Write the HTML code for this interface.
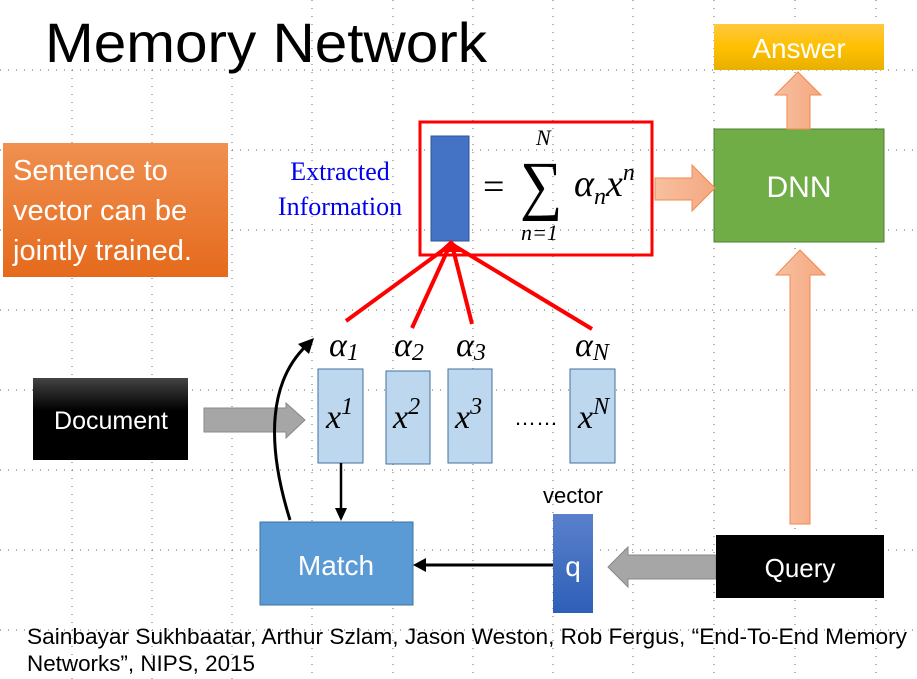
<!DOCTYPE html>
<html><head><meta charset="utf-8"><style>
body{margin:0;background:#fff;}
svg{display:block;}
text{font-family:"Liberation Sans",sans-serif;}
text.s,tspan.s{font-family:"Liberation Serif",serif;font-style:italic;}
text.r{font-family:"Liberation Serif",serif;}
</style></head><body>
<svg width="917" height="679" viewBox="0 0 917 679" xmlns="http://www.w3.org/2000/svg">
<defs>
<linearGradient id="og" x1="0" y1="0" x2="0" y2="1"><stop offset="0" stop-color="#f09050"/><stop offset="1" stop-color="#e56a1c"/></linearGradient>
<linearGradient id="bg" x1="0" y1="0" x2="0" y2="1"><stop offset="0" stop-color="#444"/><stop offset="0.4" stop-color="#000"/><stop offset="1" stop-color="#000"/></linearGradient>
<linearGradient id="yg" x1="0" y1="0" x2="0" y2="1"><stop offset="0" stop-color="#ffc840"/><stop offset="0.5" stop-color="#ffc000"/><stop offset="1" stop-color="#e8b000"/></linearGradient>
<linearGradient id="qg" x1="0" y1="0" x2="0" y2="1"><stop offset="0" stop-color="#5a80cc"/><stop offset="1" stop-color="#2e5fb8"/></linearGradient>
<linearGradient id="sg" x1="0" y1="0" x2="1" y2="0"><stop offset="0" stop-color="#f8c0a0"/><stop offset="1" stop-color="#f4a880"/></linearGradient>
</defs>
<g stroke="#000" stroke-width="1" stroke-dasharray="1 7" fill="none" opacity="0.6">
<line x1="0" y1="70" x2="917" y2="70"/><line x1="0" y1="150" x2="917" y2="150"/><line x1="0" y1="230" x2="917" y2="230"/><line x1="0" y1="310" x2="917" y2="310"/><line x1="0" y1="390" x2="917" y2="390"/><line x1="0" y1="470" x2="917" y2="470"/><line x1="0" y1="550" x2="917" y2="550"/><line x1="0" y1="630" x2="917" y2="630"/>
<line x1="72" y1="70" x2="72" y2="679"/><line x1="152" y1="70" x2="152" y2="679"/><line x1="232" y1="70" x2="232" y2="679"/><line x1="312" y1="0" x2="312" y2="679"/><line x1="393" y1="0" x2="393" y2="679"/><line x1="473" y1="0" x2="473" y2="679"/><line x1="553" y1="0" x2="553" y2="679"/><line x1="633" y1="0" x2="633" y2="679"/><line x1="714" y1="0" x2="714" y2="679"/><line x1="795" y1="0" x2="795" y2="679"/><line x1="876" y1="0" x2="876" y2="679"/>
</g>
<text x="45" y="62" font-size="56" textLength="442" lengthAdjust="spacingAndGlyphs" fill="#000">Memory Network</text>
<rect x="3" y="143" width="225" height="134" fill="url(#og)"/>
<text font-size="29" fill="#fff"><tspan x="13" y="180">Sentence to</tspan><tspan x="13" y="220">vector can be</tspan><tspan x="13" y="260">jointly trained.</tspan></text>
<text class="r" font-size="26" fill="#0000ee" text-anchor="middle"><tspan x="340" y="180">Extracted</tspan><tspan x="340" y="215">Information</tspan></text>
<rect x="420" y="122" width="232" height="133" fill="none" stroke="#f00" stroke-width="3"/>
<rect x="431" y="136" width="38" height="105" fill="#4472c4" stroke="#2f5597"/>
<text class="r" x="483" y="199" font-size="38">=</text>
<text class="r" x="520" y="207" font-size="66" transform="translate(520 0) scale(0.9 1) translate(-520 0)">∑</text>
<text class="s" x="536" y="145" font-size="22">N</text>
<text class="s" x="521" y="240" font-size="22">n=1</text>
<text class="s" x="574" y="196" font-size="38">α<tspan font-size="24" dy="8">n</tspan><tspan dy="-8">x</tspan><tspan font-size="24" dy="-16">n</tspan></text>
<g stroke="#f00" stroke-width="4" fill="none">
<line x1="346" y1="321" x2="450" y2="245"/><line x1="412" y1="328" x2="450" y2="245"/><line x1="472" y1="324" x2="452" y2="245"/><line x1="592" y1="329" x2="453" y2="245"/>
</g>
<polygon points="451,240 438,252 464,252" fill="#f00"/>
<text class="s" x="329" y="356" font-size="34">α<tspan font-size="24" dy="4">1</tspan></text>
<text class="s" x="394" y="356" font-size="34">α<tspan font-size="24" dy="4">2</tspan></text>
<text class="s" x="456" y="356" font-size="34">α<tspan font-size="24" dy="4">3</tspan></text>
<text class="s" x="575" y="356" font-size="34">α<tspan font-size="24" dy="4">N</tspan></text>
<g fill="#bdd7ee" stroke="#41719c">
<rect x="318" y="369" width="45" height="94"/><rect x="386" y="371" width="44" height="93"/><rect x="448" y="369" width="44" height="94"/><rect x="570" y="369" width="45" height="94"/>
</g>
<text class="s" x="326" y="428" font-size="34">x<tspan font-size="24" dy="-14">1</tspan></text>
<text class="s" x="393" y="428" font-size="34">x<tspan font-size="24" dy="-14">2</tspan></text>
<text class="s" x="455" y="428" font-size="34">x<tspan font-size="24" dy="-14">3</tspan></text>
<text class="s" x="578" y="428" font-size="34">x<tspan font-size="24" dy="-14">N</tspan></text>
<text x="514" y="425" font-size="22">……</text>
<rect x="33" y="378" width="155" height="82" fill="url(#bg)"/>
<text x="111" y="429" font-size="25" fill="#fff" text-anchor="middle">Document</text>
<polygon points="204,408 286,408 286,403 305,420 286,438 286,432 204,432" fill="#a6a6a6" stroke="#888"/>
<path d="M290,520 C265,440 270,380 307,345" fill="none" stroke="#000" stroke-width="3"/>
<polygon points="314,338 298,344 309,354" fill="#000"/>
<line x1="341" y1="463" x2="341" y2="510" stroke="#000" stroke-width="2.5"/>
<polygon points="335,508 347,508 341,521" fill="#000"/>
<rect x="260" y="522" width="153" height="83" fill="#5b9bd5" stroke="#41719c"/>
<text x="336" y="575" font-size="28" fill="#fff" text-anchor="middle">Match</text>
<line x1="553" y1="565" x2="424" y2="565" stroke="#000" stroke-width="3"/>
<polygon points="413,565 426,558 426,572" fill="#000"/>
<rect x="553" y="514" width="40" height="99" fill="url(#qg)"/>
<text x="573" y="576" font-size="28" fill="#fff" text-anchor="middle">q</text>
<text x="573" y="503" font-size="22" text-anchor="middle">vector</text>
<polygon points="716,555 628,555 628,547 608,567 628,587 628,579 716,579" fill="#a6a6a6" stroke="#888"/>
<rect x="716" y="535" width="168" height="63" fill="#000"/>
<text x="800" y="577" font-size="26" fill="#fff" text-anchor="middle">Query</text>
<polygon points="790,524 790,275 776,275 800,250 825,275 810,275 810,524" fill="url(#sg)" stroke="#f08a50"/>
<rect x="714" y="129" width="170" height="113" fill="#70ad47" stroke="#507e32"/>
<text x="799" y="197" font-size="30" fill="#fff" text-anchor="middle">DNN</text>
<polygon points="655,178 692,178 692,165 715,188 692,211 692,200 655,200" fill="url(#sg)" stroke="#f08a50"/>
<polygon points="787,129 787,95 775,95 798,72 821,95 810,95 810,129" fill="url(#sg)" stroke="#f08a50"/>
<rect x="714" y="24" width="170" height="46" fill="url(#yg)"/>
<text x="799" y="58" font-size="28" fill="#fff" text-anchor="middle">Answer</text>
<text font-size="22" fill="#000"><tspan x="27" y="644" textLength="880" lengthAdjust="spacingAndGlyphs">Sainbayar Sukhbaatar, Arthur Szlam, Jason Weston, Rob Fergus, “End-To-End Memory</tspan><tspan x="27" y="671" textLength="228" lengthAdjust="spacingAndGlyphs">Networks”, NIPS, 2015</tspan></text>
</svg>
</body></html>
